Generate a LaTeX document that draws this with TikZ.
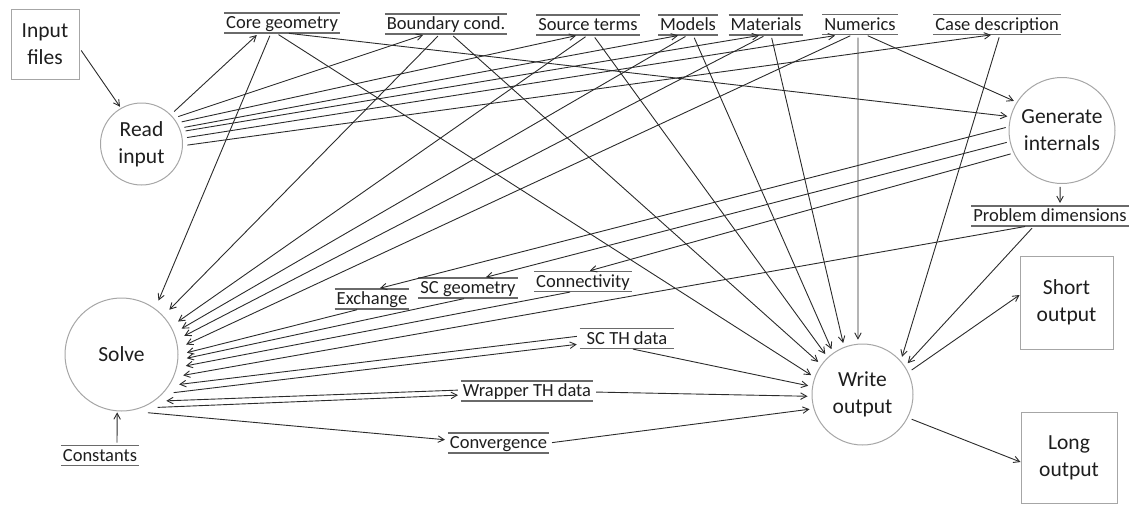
\documentclass[tikz,border=0pt]{standalone}
\usepackage{fontspec}
\setmainfont{Carlito}
\usetikzlibrary{arrows.meta}
\definecolor{ink}{HTML}{1E1E1E}
\definecolor{wire}{HTML}{2B2B2B}
\definecolor{rim}{HTML}{A6A6A6}
\definecolor{rulec}{HTML}{6A6A6A}
\begin{document}
\begin{tikzpicture}[x=1pt,y=-1pt,
  bigtext/.style={font=\fontsize{21.5}{27}\selectfont, text=ink, align=center},
  proc/.style={bigtext, circle, draw=rim, line width=1pt, inner sep=0pt, minimum size=#1},
  filebox/.style={bigtext, rectangle, draw=rim, line width=1pt, inner sep=0pt},
  rule/.style={draw=rulec, line width=1.1pt},
  dstore/.style={font=\fontsize{18.5}{22}\selectfont, text=ink, text height=15.5pt, text depth=4.5pt,
    inner xsep=2pt, inner ysep=0pt, outer sep=0pt,
    append after command={(\tikzlastnode.north west) edge[rule] (\tikzlastnode.north east)
      (\tikzlastnode.south west) edge[rule] (\tikzlastnode.south east)}},
  flow/.style={draw=wire, line width=0.9pt, -{Straight Barb[length=6pt,width=6.5pt]},
    shorten >=3pt, shorten <=3pt},
]
\useasboundingbox (0,0) rectangle (1133,504);

% process circles and file boxes
\node[filebox, minimum width=68pt, minimum height=70pt] (inf) at (45,44) {Input\\files};
\node[proc=82pt, outer sep=2pt] (ri) at (141.5,144) {Read\\input};
\node[proc=106pt] (gi) at (1062,130.5) {Generate\\internals};
\node[proc=113pt, outer sep=6pt] (sol) at (121.5,354.5) {Solve};
\node[proc=101pt, outer sep=1.5pt] (wo) at (862.5,394.5) {Write\\output};
\node[filebox, minimum width=93pt, minimum height=93pt] (so) at (1066.5,302.5) {Short\\output};
\node[filebox, minimum width=96pt, minimum height=91pt] (lo) at (1069,457.5) {Long\\output};

% data stores
\node[dstore] (cg) at (282,23) {Core geometry};
\node[dstore] (bc) at (446,24) {Boundary cond.};
\node[dstore] (st) at (588,25) {Source terms};
\node[dstore] (mo) at (688,25) {Models};
\node[dstore] (ma) at (766,25) {Materials};
\node[dstore] (nu) at (860,24.5) {Numerics};
\node[dstore] (cd) at (997,24.5) {Case description};
\node[dstore] (pd) at (1050,216) {Problem dimensions};
\node[dstore] (ex) at (372,299) {Exchange};
\node[dstore] (scg) at (468,288) {SC geometry};
\node[dstore] (con) at (583,281.5) {Connectivity};
\node[dstore, inner xsep=7pt] (scth) at (627,338.5) {SC TH data};
\node[dstore] (wth) at (527,391) {Wrapper TH data};
\node[dstore] (conv) at (498.5,443) {Convergence};
\node[dstore] (cons) at (100,455.5) {Constants};

% input reading
\draw[flow, shorten >=0pt] ([yshift=-4pt]inf.east) -- (ri.120.5);
\draw[flow] (ri.45) -- ([xshift=-23pt]cg.south);
\draw[flow] (ri.38.5) -- ([xshift=-20pt]bc.south);
\draw[flow] (ri.30) -- ([xshift=-9pt]st.south);
\draw[flow] (ri.22) -- ([xshift=-7pt]mo.south);
\draw[flow] (ri.17) -- ([xshift=-4pt]ma.south);
\draw[flow, shorten >=7pt] (ri.8) -- ([xshift=-18pt]nu.south);
\draw[flow] (ri.-2) -- ([xshift=-3pt]cd.south);

% input data into the solver
\draw[flow] ([xshift=-11pt]cg.south) -- (sol.55);
\draw[flow] ([xshift=-6pt]bc.south) -- (sol.43);
\draw[flow] (st.south) -- (sol.30.5);
\draw[flow] (mo.south) -- (sol.23);
\draw[flow] (ma.south) -- (sol.16);
\draw[flow] ([xshift=-7pt]nu.south) -- (sol.8.6);

% input data into the output writer
\draw[flow] ([xshift=-6pt]cg.south) -- (wo.160.6);
\draw[flow] ([xshift=5pt]bc.south) -- (wo.144.6);
\draw[flow] ([xshift=5pt]st.south) -- (wo.133);
\draw[flow] ([xshift=5pt]mo.south) -- (wo.125);
\draw[flow] ([xshift=5pt]ma.south) -- (wo.111.4);
\draw[flow] ([xshift=-2pt]nu.south) -- (wo.95.3);
\draw[flow] ([xshift=3pt]cd.south) -- (wo.42.2);

% internal data generation
\draw[flow] ([xshift=4pt]cg.south) -- (gi.165.5);
\draw[flow] ([xshift=5pt]nu.south) -- (gi.148.4);
\draw[flow] (gi.176.8) -- ([xshift=5pt]ex.north);
\draw[flow] (gi.192.8) -- ([xshift=15pt]scg.north);
\draw[flow] (gi.205.7) -- ([xshift=4pt]con.north);
\draw[flow] (gi.268) -- ([xshift=10pt]pd.north);
\draw[flow] ([xshift=-22pt]pd.south) -- (sol.-20.4);
\draw[flow] ([xshift=-16pt]pd.south) -- (wo.34.8);

% solver data exchange
\draw[flow] ([xshift=-12pt]ex.south) -- (sol.1.7);
\draw[flow] ([xshift=-1pt]scg.south) -- (sol.-4.5);
\draw[flow] ([xshift=-10pt]con.south) -- (sol.-11.8);
\draw[flow] ([yshift=2.5pt]scth.west) -- (sol.-29.5);
\draw[flow] (sol.-38.4) -- ([yshift=-5.5pt]scth.west);
\draw[flow] ([yshift=1pt]wth.west) -- (sol.-48.3);
\draw[flow] (sol.-58.4) -- ([yshift=-4pt]wth.west);
\draw[flow] (sol.-68.9) -- ([yshift=3pt]conv.west);
\draw[flow, shorten >=-4.5pt] ([xshift=17pt]cons.north) -- (sol.-94);

% results to output
\draw[flow] ([xshift=3pt]scth.south) -- (wo.171.7);
\draw[flow] ([yshift=-1pt]wth.east) -- (wo.182);
\draw[flow] (conv.east) -- (wo.196.2);
\draw[flow, shorten >=0pt] (wo.26.6) -- ([yshift=7.5pt]so.west);
\draw[flow, shorten >=0pt] (wo.-27.6) -- ([yshift=-4.5pt]lo.west);
\end{tikzpicture}
\end{document}
